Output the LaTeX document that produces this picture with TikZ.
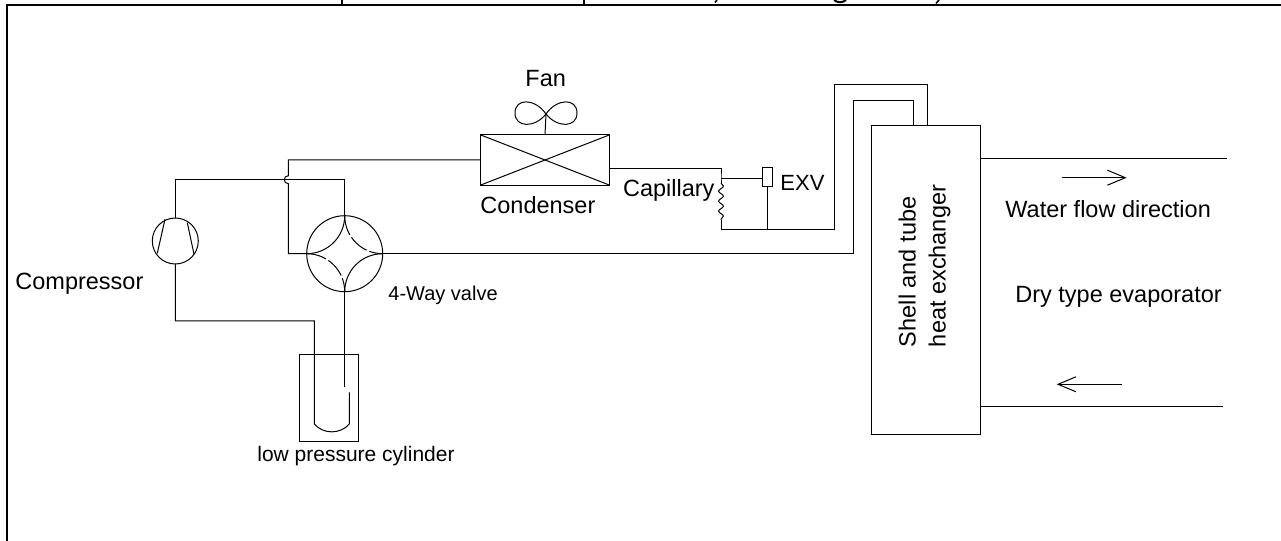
\documentclass[tikz,border=0pt]{standalone}
\usepackage{fontspec}
\setmainfont{Liberation Sans}
\usetikzlibrary{arrows.meta,decorations.pathmorphing}

\begin{document}
\begin{tikzpicture}[
    x=.5pt, y=.5pt,
    pipe/.style={line width=.5pt},
    unit/.style={draw, line width=.5pt, inner sep=0pt, outer sep=0pt},
    disc/.style={unit, circle},
    lbl/.style={inner sep=0pt, anchor=base west, font=\fontsize{11.75}{15}\selectfont},
    >={Straight Barb[length=9pt,width=7.5pt]}
]
\useasboundingbox (0,0) rectangle (1281,541);
\draw[line width=1pt] (6.5,0) |- (1281,536);

% cut-off line above the frame
\draw[line width=1pt] (341.7,541) -- ++(0,-4);
\draw[line width=1pt] (584,541) -- ++(0,-4);
\draw[line width=.8pt] (717,541) -- ++(-2,-2.5);
\draw[line width=1pt] (834,541) to[bend right=40] (846,541);
\draw[line width=.8pt] (939,541) -- ++(-3,-3.5);

\node[disc, minimum size=23pt] (comp) at (175.3,300) {};
\node[disc, minimum size=38pt] (valve) at (344.7,287.3) {};
\node[unit, minimum width=64.7pt, minimum height=25.2pt] (cond) at (545,381) {};
\node[unit, minimum width=29.4pt, minimum height=43.3pt] (tank) at (328.7,143) {};
\node[unit, minimum width=5pt, minimum height=9.7pt] (exv) at (767.3,364) {};
\node[unit, minimum width=54.7pt, minimum height=154.2pt] (hx) at (925.7,261) {};

\node[lbl] (complbl) at (15,251) {Compressor};
\node[lbl, font=\fontsize{10}{12}\selectfont] (valvelbl) at (388,240) {4-Way valve};
\node[lbl, font=\fontsize{10.5}{12}\selectfont] (tanklbl) at (257,79) {low pressure cylinder};
\node[lbl] (fanlbl) at (525,454) {Fan};
\node[lbl] (condlbl) at (480,327) {Condenser};
\node[lbl] (caplbl) at (622.7,344.3) {Capillary};
\node[lbl, font=\fontsize{11}{13}\selectfont] (exvlbl) at (780,350.3) {EXV};
\node[lbl] (waterlbl) at (1005,323.7) {Water flow direction};
\node[lbl] (drylbl) at (1015,238.3) {Dry type evaporator};
\node[lbl, anchor=center, rotate=90, align=left] (hxlbl) at (924.5,275) {Shell and tube\\heat exchanger};

\coordinate (jumptop) at (288.3,365.3);
\coordinate (jumpbot) at (288.3,357.3);
\coordinate (tubetop) at (314.3,220);
\coordinate (tubeleft) at (314.3,117);
\coordinate (tuberight) at (349.3,117);
\coordinate (tubeend) at (349.3,148.7);
\coordinate (valveend) at (344.7,153.7);
\coordinate (capout) at (609.7,372.7);
\coordinate (capjoin) at (721,362.7);
\coordinate (captop) at (721,358);
\coordinate (capbot) at (721,321);
\coordinate (liquid) at (834.3,311.7);
\coordinate (hxin) at (927,415);
\coordinate (hxout) at (913.3,415);
\coordinate (fanhub) at (546,427);
\coordinate (wtopin) at (hx.east |- 0,382);
\coordinate (wtopout) at (1226.7,382);
\coordinate (wbotin) at (hx.east |- 0,134.3);
\coordinate (wbotout) at (1222.7,134.3);

% compressor blades
\draw[pipe] (165,321.7) -- (157.3,287.7);
\draw[pipe] (187.3,318.3) -- (194,286.7);

% valve ports
\draw[pipe] (valve.north) to[out=-90,in=0] (valve.west);
\draw[pipe] (valve.east) to[out=180,in=90] (valve.south);
\draw[pipe, dash pattern=on 10pt off 1.5pt] (valve.north) to[out=-90,in=180] (valve.east);
\draw[pipe, dash pattern=on 10pt off 1.5pt] (valve.west) to[out=0,in=90] (valve.south);

% condenser cross and fan
\draw[pipe] (cond.north west) -- (cond.south east);
\draw[pipe] (cond.south west) -- (cond.north east);
\draw[pipe] (fanhub) .. controls (535,443) and (515,443) .. (515,428) .. controls (515,413) and (535,413) .. (fanhub);
\draw[pipe] (fanhub) .. controls (557,443) and (577,443) .. (577,428) .. controls (577,413) and (557,413) .. (fanhub);
\draw[pipe] (fanhub) -- (cond.north);

% refrigerant lines
\draw[pipe] (comp.north) -- ++(0,38.3) -| (valve.north);
\draw[pipe] (cond.west) -| (jumptop) to[out=180,in=180,looseness=1.7] (jumpbot) |- (valve.west);
\draw[pipe] (comp.south) |- (tubetop) -- (tubeleft) to[bend right=50] (tuberight) -- (tubeend);
\draw[pipe] (valve.south) -- (valveend);
\draw[pipe] (capout) -| (capjoin) -- (captop);
\draw[pipe, decorate, decoration={snake,amplitude=1.2pt,segment length=5pt}] (captop) -- (capbot);
\draw[pipe] (capjoin) -- (capjoin -| exv.west);
\draw[pipe] (capbot) |- (liquid) -- ++(0,145) -| (hxin);
\draw[pipe] (exv.south) -- (exv.south |- liquid);
\draw[pipe] (valve.east) -| (853.7,440.3) -| (hxout);

% water side
\draw[pipe] (wtopin) -- (wtopout);
\draw[pipe] (wbotin) -- (wbotout);
\coordinate (flowa) at (1061.7,363.3);
\coordinate (flowb) at (1126.7,363.3);
\coordinate (backa) at (1121.7,156.7);
\coordinate (backb) at (1056.7,156.7);
\draw[pipe, ->] (flowa) -- (flowb);
\draw[pipe, ->] (backa) -- (backb);
\end{tikzpicture}
\end{document}
